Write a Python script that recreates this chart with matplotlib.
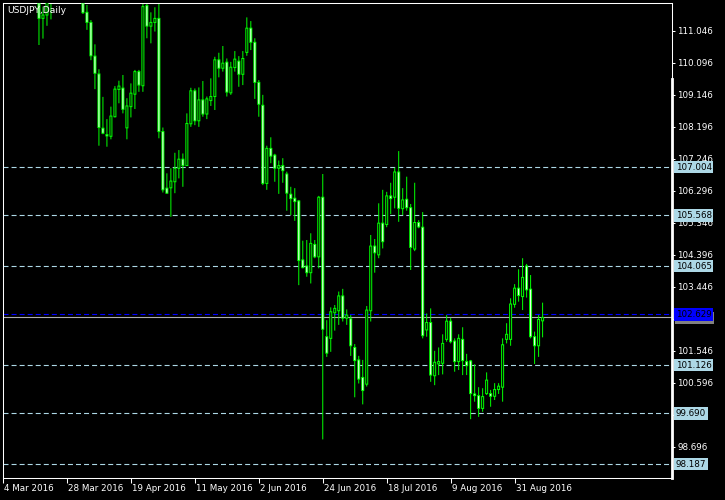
import matplotlib
matplotlib.use("Agg")
import matplotlib.pyplot as plt
import matplotlib.transforms as mtransforms
from matplotlib.patches import Rectangle
import numpy as np

# USDJPY daily bars, 4 Mar 2016 .. 9 Sep 2016 (weekdays)
opens = [113.6, 114.0, 113.3, 112.6, 113.2, 113.1, 113.8, 113.8, 113.2, 112.6,
         111.42, 111.52, 112.0, 112.3, 112.4, 112.9, 113.1, 113.4, 112.6, 112.5,
         112.6, 111.60, 111.30, 110.30, 109.77, 108.16, 107.97, 107.92, 108.50, 109.31,
         109.35, 108.17, 108.80, 109.17, 109.84, 109.42, 111.80, 111.19, 111.30, 111.42,
         108.06, 106.38, 106.39, 106.57, 106.97, 107.24, 107.05, 108.29, 109.27, 108.38,
         109.00, 108.58, 108.98, 109.10, 110.19, 109.94, 110.12, 109.21, 109.96, 110.15,
         109.76, 110.41, 111.13, 110.71, 109.52, 108.84, 106.52, 107.56, 107.36, 106.97,
         107.05, 106.80, 106.20, 106.08, 106.00, 104.25, 104.07, 103.87, 104.71, 104.34,
         106.11, 101.97, 101.92, 102.68, 102.74, 103.18, 102.52, 102.50, 101.65, 101.28,
         100.76, 100.56, 102.74, 104.66, 104.40, 105.34, 105.30, 106.15, 106.11, 106.86,
         105.77, 106.05, 105.80, 104.57, 105.36, 105.22, 102.17, 102.39, 100.81, 101.16,
         101.18, 101.89, 102.43, 101.84, 101.23, 101.89, 101.23, 101.25, 100.27, 100.22,
         99.84, 100.28, 100.28, 100.20, 100.40, 100.47, 101.89, 101.89, 102.93, 103.41,
         103.16, 104.07, 103.38, 101.97, 101.70, 102.44]
highs = [114.1, 114.0, 113.4, 113.3, 114.4, 113.9, 114.0, 113.8, 114.0, 112.7,
         111.77, 112.3, 112.4, 112.7, 113.0, 113.3, 113.8, 113.7, 112.9, 112.8,
         112.9, 111.82, 111.37, 110.65, 109.91, 109.09, 108.43, 108.80, 109.41, 109.57,
         109.74, 109.05, 109.49, 109.89, 109.89, 111.88, 111.95, 111.60, 111.75, 111.90,
         108.18, 106.82, 106.97, 107.43, 107.51, 107.41, 108.60, 109.36, 109.34, 109.37,
         109.56, 109.10, 109.64, 110.28, 110.40, 110.60, 110.23, 110.13, 110.45, 110.30,
         110.45, 111.45, 111.34, 110.83, 109.59, 109.15, 107.64, 107.89, 107.40, 107.20,
         107.27, 106.87, 106.42, 106.38, 106.03, 104.82, 104.84, 105.04, 104.84, 106.15,
         106.80, 102.46, 102.84, 102.91, 103.31, 103.39, 102.78, 102.61, 101.75, 101.40,
         101.28, 102.88, 104.99, 104.87, 105.93, 106.33, 106.27, 106.54, 106.99, 107.48,
         106.38, 106.72, 105.91, 106.54, 105.43, 105.67, 102.66, 102.81, 101.55, 101.65,
         102.04, 102.61, 102.53, 101.92, 102.04, 102.25, 101.46, 101.28, 101.15, 100.47,
         100.44, 100.91, 100.39, 100.59, 100.59, 101.92, 102.37, 103.11, 103.53, 103.97,
         104.30, 104.13, 103.80, 102.12, 102.61, 102.98]
lows = [113.3, 113.1, 112.2, 112.3, 112.6, 112.9, 113.6, 113.2, 112.6, 110.63,
        110.82, 111.20, 111.39, 112.0, 112.2, 112.6, 112.9, 112.3, 112.1, 112.2,
        111.55, 111.08, 110.18, 109.32, 107.64, 107.98, 107.61, 107.83, 108.48, 108.90,
        108.60, 107.83, 108.48, 108.73, 109.24, 109.24, 110.83, 110.68, 111.03, 107.86,
        106.25, 106.21, 105.53, 106.23, 106.67, 106.42, 107.04, 108.20, 108.25, 108.20,
        108.50, 108.43, 108.82, 108.70, 109.67, 109.84, 109.10, 109.15, 109.84, 109.39,
        109.44, 110.31, 110.48, 109.03, 108.50, 106.47, 106.33, 107.12, 106.57, 106.21,
        106.54, 105.71, 105.58, 105.41, 103.50, 104.00, 103.75, 103.55, 104.30, 104.00,
        98.92, 101.37, 101.52, 102.15, 102.32, 102.42, 102.32, 101.40, 100.17, 100.58,
        99.96, 100.49, 102.42, 103.87, 104.30, 104.59, 105.22, 105.61, 105.78, 105.38,
        105.58, 105.71, 103.95, 104.51, 105.19, 101.92, 101.97, 100.63, 100.53, 100.83,
        100.85, 101.82, 101.77, 100.93, 100.98, 100.83, 100.83, 99.52, 100.04, 99.59,
        99.74, 100.24, 99.89, 100.09, 100.27, 100.04, 101.77, 101.70, 102.83, 103.01,
        102.76, 103.13, 101.92, 101.16, 101.37, 101.95]
closes = [114.0, 113.3, 112.6, 113.2, 113.1, 113.8, 113.8, 113.2, 112.6, 111.42,
          111.52, 112.0, 112.3, 112.4, 112.9, 113.1, 113.4, 112.6, 112.5, 112.6,
          111.59, 111.30, 110.31, 109.79, 108.18, 108.01, 107.93, 108.52, 109.32, 109.41,
          108.72, 108.82, 109.20, 109.84, 109.44, 111.77, 111.19, 111.30, 111.42, 108.06,
          106.33, 106.23, 106.59, 106.97, 107.24, 107.05, 108.30, 109.27, 108.38, 109.00,
          108.58, 109.03, 109.10, 110.19, 109.94, 110.09, 109.23, 109.97, 110.21, 109.76,
          110.23, 111.13, 110.71, 109.52, 108.87, 106.52, 107.56, 107.33, 106.97, 107.05,
          106.90, 106.23, 106.07, 105.98, 104.23, 104.02, 103.87, 104.74, 104.34, 106.11,
          102.19, 101.48, 102.71, 102.81, 103.18, 102.52, 102.61, 101.70, 101.26, 100.71,
          100.37, 102.76, 104.66, 104.46, 105.34, 104.79, 106.15, 106.07, 106.86, 105.78,
          106.03, 105.80, 104.62, 105.36, 105.23, 102.00, 102.39, 100.83, 101.21, 101.23,
          101.77, 102.43, 101.82, 101.23, 101.92, 101.26, 101.11, 100.28, 100.22, 99.84,
          100.19, 100.68, 100.20, 100.40, 100.50, 101.73, 102.04, 102.94, 103.41, 103.19,
          103.73, 103.36, 101.97, 101.70, 102.48, 102.54]

date_idx = [0, 16, 32, 48, 64, 80, 96, 112, 128]
date_labels = ['4 Mar 2016', '28 Mar 2016', '19 Apr 2016', '11 May 2016', '2 Jun 2016',
               '24 Jun 2016', '18 Jul 2016', '9 Aug 2016', '31 Aug 2016']
price_ticks = [111.046, 110.096, 109.146, 108.196, 107.246, 106.296, 105.346,
               104.396, 103.446, 102.496, 101.546, 100.596, 99.646, 98.696]
hidden_ticks = [102.496, 99.646]   # covered by price labels in the terminal
levels = [107.004, 105.568, 104.065, 101.126, 99.690, 98.187]
ask_price = 102.629
bid_price = 102.545

GREEN = '#00ff00'
LBLUE = '#add8e6'
FS = 6.3
PX = 1 / 33.68   # one pixel in price units

plt.rcParams['lines.scale_dashes'] = False
fig = plt.figure(figsize=(7.25, 5), dpi=100, facecolor='black')
ax = fig.add_axes([3 / 725, 22 / 500, 669 / 725, 475 / 500])
ax.set_facecolor('black')

x = np.arange(len(opens))
o = np.array(opens); h = np.array(highs); l = np.array(lows); c = np.array(closes)
bull = c >= o

wicks = ax.vlines(x, l, h, color=GREEN, lw=0.72, zorder=2)
wicks.set_snap(False)
body_lo = np.minimum(o, c)
body_h = np.maximum(np.abs(c - o), PX)
outer = ax.bar(x, body_h + PX, bottom=body_lo - PX / 2, width=0.75, color=GREEN,
               lw=0, zorder=3)
inner_h = body_h - PX
show = inner_h > 0
fills = np.where(bull, 'black', 'white')
inner = ax.bar(x[show], inner_h[show], bottom=body_lo[show] + PX / 2, width=0.25,
               color=list(fills[show]), lw=0, zorder=4)
for p in list(outer) + list(inner):
    p.set_snap(False)

for lv in levels:
    ax.axhline(lv, color=LBLUE, lw=0.8, dashes=(3.6, 2.2), zorder=1)
ax.axhline(bid_price, color='#b0b0b0', lw=0.8, zorder=1)
ax.axhline(ask_price, color='#0000ff', lw=0.8, dashes=(3.6, 2.2), zorder=1)

# 4 px per bar, bar centres on pixel centres
ax.set_xlim(0.125, 167.375)
ax.set_ylim(97.774, 111.877)

ax.set_xticks(date_idx)
ax.set_xticklabels(date_labels, ha='left', color='white', fontsize=FS)
ax.set_yticks(price_ticks)
ax.set_yticklabels(['' if v in hidden_ticks else '%.3f' % v for v in price_ticks],
                   color='white', fontsize=FS)
ax.yaxis.tick_right()
ax.tick_params(axis='x', direction='out', length=3.3, width=0.75, colors='white', pad=1)
ax.tick_params(axis='y', direction='out', length=2.5, width=0.75, colors='white', pad=1.2)
offs = mtransforms.ScaledTranslation(1 / 100, 0, fig.dpi_scale_trans)
for lab in ax.get_xticklabels():
    lab.set_transform(lab.get_transform() + offs)

for s in ax.spines.values():
    s.set_color('white')
    s.set_linewidth(0.75)
ax.plot([1, 1], [0, 0.84], color='white', lw=2, transform=ax.transAxes,
        clip_on=False, zorder=5)

trans = mtransforms.blended_transform_factory(ax.transAxes, ax.transData)
for lv in levels:
    ax.text(1.0055, lv, '%.3f' % lv, transform=trans, fontsize=FS, color='black',
            va='center', ha='left', zorder=6, clip_on=False,
            bbox=dict(boxstyle='square,pad=0.18', fc=LBLUE, ec='none'))
# bid label, almost fully hidden under the ask label
ax.add_patch(Rectangle((1.0045, bid_price - 0.2), 39 / 669, 0.35, transform=trans,
                       fc='#808080', ec='none', clip_on=False, zorder=6))
ax.text(1.0055, ask_price, '%.3f' % ask_price, transform=trans, fontsize=FS,
        color='black', va='center', ha='left', zorder=7, clip_on=False,
        bbox=dict(boxstyle='square,pad=0.18', fc='#0000ff', ec='none'))

ax.text(4 / 669, 1 - 3 / 475, 'USDJPY,Daily', transform=ax.transAxes, color='white',
        fontsize=FS + 0.3, va='top', ha='left', zorder=8)

fig.savefig('out.png', dpi=100, facecolor='black')
